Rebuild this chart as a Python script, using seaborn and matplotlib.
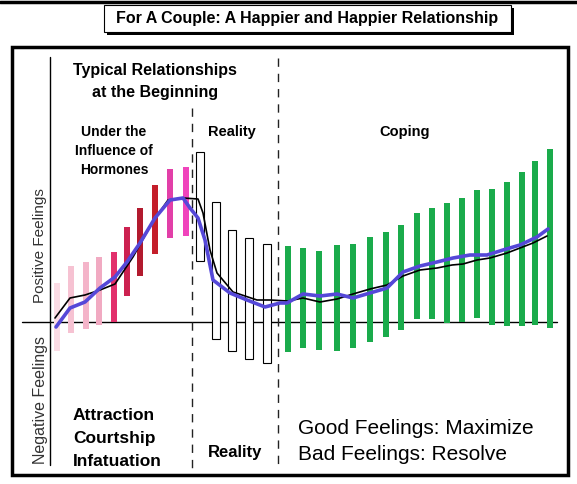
import matplotlib
matplotlib.use('Agg')
import matplotlib.pyplot as plt
from matplotlib.patches import Rectangle
from matplotlib.lines import Line2D
import seaborn as sns

sns.set_style('white')
plt.rcParams['font.family'] = ['Liberation Sans', 'DejaVu Sans']

# Floating bars: phase 1 (hormones), phase 2 (reality), phase 3 (coping)
pink_x = [0.7, 2.1, 3.6, 4.9, 6.4, 7.7, 9.0, 10.5, 12.0, 13.6]
pink_hi = [3.9, 5.6, 6.0, 6.5, 7.0, 9.5, 11.4, 13.7, 15.3, 15.5]
pink_lo = [-2.9, -1.1, -0.7, -0.3, 0.0, 2.6, 4.6, 6.8, 8.4, 8.6]
pink_colors = ['#fbdbe4', '#f6c2d2', '#f4b4c9', '#f1aac2', '#e2306c',
               '#cc2150', '#b21a2e', '#c41e2a', '#e23fa8', '#f044bc']

white_x = [15.0, 16.6, 18.2, 19.9, 21.7]
white_hi = [17.0, 12.0, 9.2, 8.4, 7.8]
white_lo = [6.1, -1.7, -2.9, -3.7, -4.1]

green_x = [23.8, 25.3, 26.9, 28.7, 30.3, 32.0, 33.6, 35.1, 36.7, 38.2,
           39.7, 41.2, 42.7, 44.2, 45.7, 47.2, 48.5, 50.0]
green_hi = [7.6, 7.4, 7.1, 7.7, 7.8, 8.5, 9.0, 9.7, 10.9, 11.4,
            11.9, 12.4, 13.2, 13.3, 14.0, 15.0, 16.1, 17.3]
green_lo = [-3.0, -2.6, -2.8, -2.9, -2.6, -2.0, -1.5, -0.8, 0.3, 0.3,
            -0.1, 0.0, 0.4, -0.3, -0.4, -0.4, -0.3, -0.6]

# Average feeling lines
black_x = [0.5, 2.0, 3.5, 5.0, 6.5, 8.3, 10.2, 11.8, 13.3, 14.8, 15.3, 16.0,
           16.7, 18.3, 20.7, 22.0, 23.8, 25.3, 27.0, 28.7, 30.3, 32.0, 33.7,
           35.3, 37.0, 38.7, 40.2, 41.3, 42.7, 44.0, 45.7, 47.0, 48.3, 49.7]
black_y = [0.4, 2.4, 2.7, 3.2, 3.8, 6.5, 9.9, 12.2, 12.4, 12.3, 10.9, 7.2,
           4.9, 3.0, 2.2, 2.2, 2.1, 2.4, 2.0, 2.3, 2.8, 3.3, 3.7,
           4.6, 5.2, 5.4, 5.7, 5.8, 6.2, 6.4, 6.9, 7.4, 7.9, 8.6]
blue_x = [0.6, 2.0, 3.5, 5.0, 6.5, 7.7, 9.0, 10.5, 12.0, 13.3, 14.0, 14.8,
          15.5, 16.3, 18.0, 19.7, 21.5, 23.0, 23.7, 25.3, 27.0, 28.7, 30.3,
          32.0, 33.7, 35.3, 37.0, 38.7, 40.3, 42.0, 43.7, 45.3, 47.0, 48.7, 49.8]
blue_y = [-0.5, 1.4, 2.0, 3.4, 4.5, 6.0, 7.9, 10.4, 12.2, 12.4, 11.4, 10.4,
          8.2, 4.2, 2.9, 2.2, 1.5, 1.9, 1.9, 2.8, 2.6, 2.8, 2.4,
          2.9, 3.4, 5.0, 5.6, 6.0, 6.4, 6.7, 6.7, 7.2, 7.7, 8.5, 9.3]

W, H = 577, 484


def fx(px):
    return px / W


def fy(py):
    return 1 - py / H


fig = plt.figure(figsize=(W / 100, H / 100), dpi=100)
fig.patch.set_facecolor('white')
ax = fig.add_axes([0, 0, 1, 1])
ax.set_xlim(-5, 52.7)
ax.set_ylim(-16.2, 32.2)
ax.axis('off')

# axes lines
ax.plot([-2.8, 50.7], [0, 0], color='black', lw=1.0, zorder=1)
ax.plot([0, 0], [26.5, -14.3], color='black', lw=1.0, zorder=1)
ax.plot([14.2, 14.2], [21.4, -14.8], color='#222222', lw=1.0,
        dashes=(6, 5), zorder=1)
ax.plot([22.8, 22.8], [26.4, -14.8], color='#222222', lw=1.0,
        dashes=(6, 5), zorder=1)

# bars
pink_h = [h - l for h, l in zip(pink_hi, pink_lo)]
ax.bar(pink_x, pink_h, bottom=pink_lo, width=0.6, color=pink_colors,
       linewidth=0, zorder=2)
white_h = [h - l for h, l in zip(white_hi, white_lo)]
ax.bar(white_x, white_h, bottom=white_lo, width=0.75, color='white',
       edgecolor='black', linewidth=0.8, zorder=2)
green_h = [h - l for h, l in zip(green_hi, green_lo)]
ax.bar(green_x, green_h, bottom=green_lo, width=0.6, color='#1aab4b',
       linewidth=0, zorder=2)

# lines
sns.lineplot(x=black_x, y=black_y, ax=ax, color='black', lw=1.2,
             sort=False, estimator=None, zorder=3)
sns.lineplot(x=blue_x, y=blue_y, ax=ax, color='#5548d8', lw=2.6,
             sort=False, estimator=None, zorder=4)

# texts
bold = dict(fontweight='bold', color='black')
fig.text(fx(155), fy(70), 'Typical Relationships', ha='center', va='center',
         fontsize=11.5, **bold)
fig.text(fx(155), fy(92), 'at the Beginning', ha='center', va='center',
         fontsize=11.5, **bold)
for i, s in enumerate(['Under the', 'Influence of', 'Hormones']):
    fig.text(fx(114), fy(132 + 19 * i), s, ha='center', va='center',
             fontsize=10, **bold)
fig.text(fx(232), fy(132), 'Reality', ha='center', va='center',
         fontsize=10.5, **bold)
fig.text(fx(405), fy(132), 'Coping', ha='center', va='center',
         fontsize=10.5, **bold)
for i, s in enumerate(['Attraction', 'Courtship', 'Infatuation']):
    fig.text(fx(73), fy(415 + 23.5 * i), s, ha='left', va='center',
             fontsize=12.5, **bold)
fig.text(fx(235), fy(453), 'Reality', ha='center', va='center',
         fontsize=12, **bold)
fig.text(fx(298), fy(428), 'Good Feelings: Maximize', ha='left',
         va='center', fontsize=15, color='black')
fig.text(fx(298), fy(455), 'Bad Feelings: Resolve', ha='left',
         va='center', fontsize=15, color='black')
fig.text(fx(40), fy(246), 'Positive Feelings', rotation=90, ha='center',
         va='center', fontsize=11, color='#333333')
fig.text(fx(40), fy(400), 'Negative Feelings', rotation=90, ha='center',
         va='center', fontsize=11.5, color='#333333')

# frame, title box, top rule
fig.add_artist(Line2D([0, 1], [fy(1.5), fy(1.5)], color='black', lw=2.5,
                      transform=fig.transFigure))
fig.add_artist(Rectangle((fx(12), fy(475)), fx(556), 428 / H, fill=False,
                         edgecolor='black', lw=2.5, transform=fig.transFigure))
fig.add_artist(Rectangle((fx(107), fy(35)), fx(407), 27 / H,
                         facecolor='black', edgecolor='black', lw=0,
                         transform=fig.transFigure))
fig.add_artist(Rectangle((fx(104), fy(32)), fx(407), 27 / H,
                         facecolor='white', edgecolor='black', lw=0.8,
                         transform=fig.transFigure))
fig.text(fx(307), fy(18.5), 'For A Couple: A Happier and Happier Relationship',
         ha='center', va='center', fontsize=11.5, **bold)

fig.savefig('out.png', dpi=100)
